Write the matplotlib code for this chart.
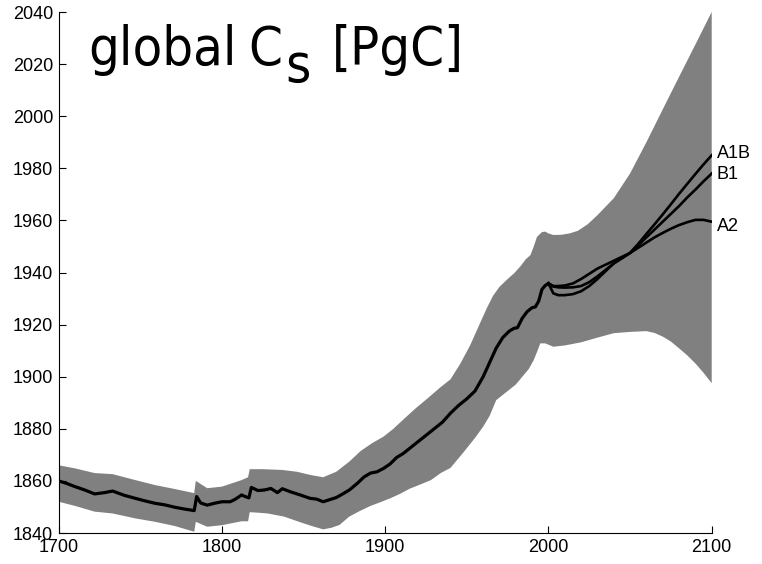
import matplotlib
matplotlib.use("Agg")
import matplotlib.pyplot as plt

# historical mean
hist_years = [1700, 1705, 1710, 1716, 1722, 1728, 1733, 1740, 1747, 1753,
              1759, 1765, 1771, 1777, 1783, 1784.5, 1787, 1791, 1796, 1800,
              1805, 1808, 1812, 1815, 1816.5, 1818, 1822, 1826, 1830, 1834,
              1837, 1842, 1848, 1854, 1858, 1862, 1866, 1870, 1874, 1878,
              1883, 1887, 1891, 1895, 1899, 1903, 1907, 1911, 1915, 1920,
              1925, 1930, 1935, 1940, 1945, 1950, 1955, 1960, 1964, 1968,
              1972, 1976, 1979, 1981, 1984, 1987, 1990, 1992, 1994, 1996,
              1998, 2000]
hist_vals = [1860, 1859, 1857.8, 1856.5, 1855, 1855.5, 1856.1, 1854.5, 1853.3, 1852.3,
             1851.4, 1850.8, 1849.9, 1849.2, 1848.6, 1854, 1851.5, 1850.7, 1851.5, 1852,
             1852, 1852.9, 1854.6, 1853.8, 1853.5, 1857.5, 1856.3, 1856.5, 1857.1, 1855.5,
             1857, 1855.8, 1854.6, 1853.3, 1853, 1852, 1852.8, 1853.6, 1855, 1856.5,
             1859.1, 1861.5, 1863, 1863.5, 1864.8, 1866.5, 1869, 1870.5, 1872.5, 1875,
             1877.5, 1880, 1882.5, 1886, 1889, 1891.5, 1894.5, 1900, 1905.5, 1911,
             1915, 1917.5, 1918.6, 1918.8, 1922.5, 1925, 1926.5, 1926.8, 1929, 1933.5,
             1935, 1935.8]

# uncertainty band
up_years = [1700, 1710, 1722, 1733, 1747, 1759, 1771, 1783, 1784, 1791,
            1800, 1812, 1816, 1817, 1825, 1837, 1846, 1854, 1862, 1870,
            1878, 1885, 1892, 1899, 1905, 1911, 1918, 1926, 1933, 1940,
            1946, 1952, 1957, 1962, 1966, 1970, 1975, 1979, 1983, 1986,
            1989, 1991, 1993, 1996, 1998, 2000, 2003, 2008, 2013, 2018,
            2024, 2030, 2040, 2050, 2060, 2070, 2080, 2090, 2100]
up_vals = [1866, 1864.8, 1863, 1862.6, 1860.3, 1858.4, 1856.9, 1855.3, 1860, 1857.2,
           1857.8, 1860.3, 1861.4, 1864.5, 1864.5, 1864.2, 1863.5, 1862.3, 1861.4, 1863.5,
           1867.4, 1871.5, 1874.5, 1877, 1880, 1883.5, 1887.5, 1891.7, 1895.5, 1899,
           1905, 1912, 1919, 1926, 1931, 1934.5, 1937.5, 1939.7, 1942.5, 1945,
           1946.7, 1950, 1953.7, 1955.5, 1955.7, 1955, 1954.4, 1954.5, 1955, 1956,
           1958.5, 1962, 1968.5, 1978, 1990, 2002.6, 2015.1, 2027.5, 2040]
lo_years = [1700, 1710, 1722, 1733, 1747, 1759, 1771, 1783, 1784, 1791,
            1800, 1812, 1816, 1817, 1822, 1828, 1838, 1844, 1850, 1856,
            1862, 1867, 1872, 1878, 1884, 1891, 1897, 1903, 1909, 1915,
            1921, 1928, 1934, 1940, 1948, 1955, 1960, 1964, 1968, 1972,
            1976, 1980, 1984, 1988, 1991, 1993, 1995, 1998, 2003, 2010,
            2020, 2030, 2040, 2050, 2060, 2065, 2070, 2075, 2080, 2085,
            2090, 2095, 2100]
lo_vals = [1852, 1850.4, 1848.2, 1847.5, 1845.6, 1844.3, 1842.7, 1840.5, 1844.3, 1842.4,
           1843, 1844.5, 1844.5, 1848, 1847.8, 1847.5, 1846.3, 1845, 1843.7, 1842.5,
           1841.4, 1842, 1843.1, 1846.3, 1848.3, 1850.4, 1851.8, 1853.3, 1855, 1857,
           1858.5, 1860.3, 1863, 1865, 1871, 1876.5, 1880.8, 1885, 1891, 1893,
           1895, 1897, 1900, 1903, 1906.4, 1909.5, 1912.8, 1912.8, 1911.5, 1912,
           1913.2, 1915, 1916.7, 1917.2, 1917.5, 1916.8, 1915.4, 1913.5, 1910.9, 1908.2,
           1905.1, 1901.5, 1897.5]

# scenarios
scen_years = [2000, 2003, 2006, 2010, 2015, 2020, 2025, 2030, 2035, 2040, 2045,
              2050, 2055, 2060, 2065, 2070, 2075, 2080, 2085, 2090, 2095, 2100]
a2_vals = [1935.8, 1934.8, 1934.8, 1935, 1935.8, 1937.5, 1939.5, 1941.5, 1943, 1944.5, 1946,
           1947.5, 1949.5, 1951.5, 1953.5, 1955.2, 1956.8, 1958.2, 1959.3, 1960.2, 1960.2, 1959.5]
a1b_vals = [1935.8, 1932, 1931.3, 1931.3, 1931.7, 1932.8, 1934.8, 1937.5, 1940.5, 1943.5, 1945.5,
            1947.5, 1951, 1954.8, 1958.5, 1962.3, 1966.2, 1970.2, 1974, 1977.8, 1981.5, 1985]
b1_vals = [1935.8, 1934.6, 1934.3, 1934.2, 1934.3, 1934.8, 1936.3, 1938.5, 1941, 1943.5, 1945.5,
           1947.5, 1950.5, 1953.5, 1956.5, 1959.5, 1962.5, 1965.5, 1968.8, 1971.8, 1975, 1978]
scen_labels = ["A1B", "B1", "A2"]
label_y = [1985.5, 1977.5, 1957.5]

x_ticks = [1700, 1800, 1900, 2000, 2100]
y_ticks = [1840, 1860, 1880, 1900, 1920, 1940, 1960, 1980, 2000, 2020, 2040]

W, H = 762, 564
fig = plt.figure(figsize=(W / 100, H / 100), dpi=100)
ax = fig.add_axes([58.7 / W, 31 / H, 653 / W, 521 / H])

poly_x = up_years + lo_years[::-1]
poly_y = up_vals + lo_vals[::-1]
ax.fill(poly_x, poly_y, color="#808080", lw=0)

ax.plot(hist_years, hist_vals, color="black", lw=2.3, solid_joinstyle="round")
for vals in (a2_vals, a1b_vals, b1_vals):
    ax.plot(scen_years, vals, color="black", lw=1.9)

for lab, yv in zip(scen_labels, label_y):
    ax.text(2103, yv, lab, fontsize=13, family="Liberation Sans", va="center", ha="left")

# title pieces (pixel positions -> figure fraction)
title_kw = dict(fontsize=39, family="DejaVu Sans", fontstretch="condensed",
                va="baseline", ha="left")
base = 65
fig.text(88 / W, 1 - base / H, "global", **title_kw)
fig.text(248 / W, 1 - base / H, "C", **title_kw)
fig.text(285 / W, 1 - (base + 17) / H, "s", **title_kw)
fig.text(332 / W, 1 - base / H, "[PgC]", **title_kw)

ax.set_xlim(1700, 2100)
ax.set_ylim(1840, 2040)
ax.set_xticks(x_ticks)
ax.set_yticks(y_ticks)
ax.spines["top"].set_visible(False)
ax.spines["right"].set_visible(False)
for s in ("left", "bottom"):
    ax.spines[s].set_linewidth(0.8)
ax.tick_params(direction="in", length=5, width=0.8, labelsize=13)
ax.tick_params(axis="x", pad=4)
ax.tick_params(axis="y", pad=4)
for lbl in ax.get_xticklabels() + ax.get_yticklabels():
    lbl.set_family("Liberation Sans")

fig.savefig("out.png", dpi=100)
